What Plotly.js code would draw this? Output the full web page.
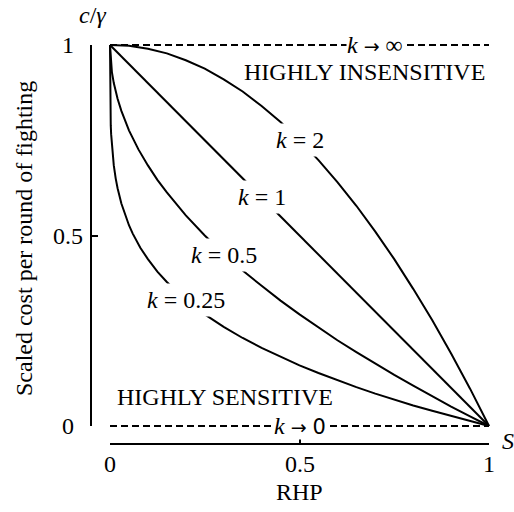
<!DOCTYPE html>
<html>
<head>
<meta charset="utf-8">
<script src="https://cdn.plot.ly/plotly-3.0.1.min.js"></script>
<style>
  html, body { margin: 0; padding: 0; background: #fff; }
  #chart { width: 514px; height: 512px; }
</style>
</head>
<body>
<div id="chart"></div>
<script>
// Scaled cost per round of fighting (c/γ) against RHP (S) for several k.
const curveNames = ['k = 0.25', 'k = 0.5', 'k = 1', 'k = 2'];

const rhpK025  = [0, 0.0001, 0.0005, 0.001, 0.002, 0.003, 0.005, 0.0075, 0.01, 0.015, 0.02, 0.03, 0.04, 0.05, 0.06, 0.08,
                  0.1, 0.125, 0.15, 0.175, 0.2, 0.25, 0.3, 0.35, 0.4, 0.45, 0.5, 0.55, 0.6, 0.65, 0.7, 0.75, 0.8, 0.85, 0.9, 0.95, 1];
const costK025 = [1, 0.900, 0.850, 0.822, 0.789, 0.766, 0.734, 0.706, 0.684, 0.650, 0.624, 0.584, 0.553, 0.527, 0.505, 0.468,
                  0.438, 0.405, 0.378, 0.353, 0.331, 0.293, 0.260, 0.231, 0.205, 0.181, 0.159, 0.139, 0.120, 0.102, 0.085, 0.069, 0.054, 0.040, 0.026, 0.013, 0];

const rhpK05  = [0, 0.002, 0.005, 0.01, 0.02, 0.03, 0.05, 0.075, 0.1, 0.125, 0.15, 0.2, 0.25, 0.3, 0.35, 0.4,
                 0.45, 0.5, 0.55, 0.6, 0.65, 0.7, 0.75, 0.8, 0.85, 0.9, 0.95, 1];
const costK05 = [1, 0.955, 0.929, 0.900, 0.859, 0.827, 0.776, 0.726, 0.684, 0.646, 0.613, 0.553, 0.500, 0.452, 0.408, 0.368,
                 0.329, 0.293, 0.258, 0.225, 0.194, 0.163, 0.134, 0.106, 0.078, 0.051, 0.025, 0];

const rhpK1  = [0, 1];
const costK1 = [1, 0];

const rhpK2  = [0, 0.05, 0.1, 0.15, 0.2, 0.25, 0.3, 0.35, 0.4, 0.45, 0.5, 0.55, 0.6, 0.65, 0.7, 0.75, 0.8, 0.85, 0.9, 0.95, 1];
const costK2 = [1, 0.998, 0.990, 0.978, 0.960, 0.938, 0.910, 0.878, 0.840, 0.798, 0.750, 0.698, 0.640, 0.578, 0.510, 0.438,
                0.360, 0.278, 0.190, 0.098, 0];

// limiting cases
const limitRhp = [0, 1];
const limitInfCost = [1, 1];
const limitZeroCost = [0, 0];

// where each curve carries its label (on the curve)
const labelRhp  = [0.2, 0.3, 0.4, 0.5];
const labelCost = [0.33, 0.45, 0.6, 0.75];

// axis ticks
const tickVals = [0, 0.5, 1];
const tickText = ['0', '0.5', '1'];

// ---- geometry (pixels in the 514x512 page) ----
const W = 514, H = 512;
const PL = 88, PR = 502, PT = 30, PB = 452;        // paper box
const X0 = 110, X1 = 489, Y0 = 426, Y1 = 45;       // where S, c/γ = 0..1 land
const XAXIS_LINE = 443.5, YAXIS_LINE = 91;
const pad = 0.02;                                  // room so edge lines are not clipped
const fx = px => (px - PL) / (PR - PL);
const fy = py => (PB - py) / (PB - PT);
const sx = (X1 - X0), sy = (Y0 - Y1);

const FONT = 'Liberation Serif, Times New Roman, serif';
const FS = 24;
const ARROW = '<span style="font-family:DejaVu Sans;font-size:19px">→</span>';

const lineStyle = { color: '#000', width: 2 };

const traces = [
  { x: rhpK025, y: costK025, name: curveNames[0] },
  { x: rhpK05,  y: costK05,  name: curveNames[1] },
  { x: rhpK1,   y: costK1,   name: curveNames[2] },
  { x: rhpK2,   y: costK2,   name: curveNames[3] }
].map(t => Object.assign(t, {
  type: 'scatter', mode: 'lines', line: lineStyle,
  hoverinfo: 'skip', showlegend: false, xaxis: 'x', yaxis: 'y'
}));

traces.push(
  { x: limitRhp, y: limitInfCost, type: 'scatter', mode: 'lines',
    line: { color: '#000', width: 2, dash: '7px,4px' }, hoverinfo: 'skip', showlegend: false },
  { x: limitRhp, y: limitZeroCost, type: 'scatter', mode: 'lines',
    line: { color: '#000', width: 2, dash: '7px,4px' }, hoverinfo: 'skip', showlegend: false },
  // carrier for the offset axes (nothing visible)
  { x: tickVals, y: tickVals, xaxis: 'x2', yaxis: 'y2', type: 'scatter', mode: 'markers',
    marker: { opacity: 0 }, hoverinfo: 'skip', showlegend: false }
);

const annotations = [];

// curve labels sit on the curves, hiding the line beneath them
curveNames.forEach((n, i) => {
  const parts = n.split(' = ');
  annotations.push({
    x: labelRhp[i], y: labelCost[i], xref: 'x', yref: 'y',
    text: '<i>k</i> = ' + parts[1], showarrow: false,
    bgcolor: '#fff', borderpad: 3,
    font: { family: FONT, size: FS, color: '#000' }
  });
});

annotations.push(
  { x: 0.70, y: 1, xref: 'x', yref: 'y', text: '<i>k</i> ' + ARROW + ' ∞', showarrow: false,
    bgcolor: '#fff', borderpad: 0, font: { family: FONT, size: FS, color: '#000' } },
  { x: 0.5, y: 0, xref: 'x', yref: 'y',
    text: '<i>k</i> ' + ARROW + ' <span style="font-family:DejaVu Sans;font-size:21px">0</span>', showarrow: false,
    bgcolor: '#fff', borderpad: 0, font: { family: FONT, size: FS, color: '#000' } },
  { x: fx(487), y: fy(72), xref: 'paper', yref: 'paper', xanchor: 'right', yanchor: 'middle',
    text: 'HIGHLY INSENSITIVE', showarrow: false, font: { family: FONT, size: FS, color: '#000' } },
  { x: fx(115), y: fy(397), xref: 'paper', yref: 'paper', xanchor: 'left', yanchor: 'middle',
    text: 'HIGHLY SENSITIVE', showarrow: false, font: { family: FONT, size: FS, color: '#000' } },
  { x: fx(92), y: fy(15), xref: 'paper', yref: 'paper', xanchor: 'center', yanchor: 'middle',
    text: '<i>c</i>/<i>γ</i>', showarrow: false, font: { family: FONT, size: FS, color: '#000' } },
  { x: fx(500), y: fy(441), xref: 'paper', yref: 'paper', xanchor: 'left', yanchor: 'middle',
    text: '<i>S</i>', showarrow: false, font: { family: FONT, size: FS, color: '#000' } },
  { x: fx(299), y: fy(492), xref: 'paper', yref: 'paper', xanchor: 'center', yanchor: 'middle',
    text: 'RHP', showarrow: false, font: { family: FONT, size: FS, color: '#000' } },
  { x: fx(24), y: fy(239), xref: 'paper', yref: 'paper', xanchor: 'center', yanchor: 'middle',
    text: 'Scaled cost per round of fighting', textangle: -90, showarrow: false,
    font: { family: FONT, size: FS, color: '#000' } }
);

// tick labels: y labels centred in their column, x labels centred under their ticks
tickVals.forEach((v, i) => {
  annotations.push({
    x: fx(67.5), y: v, xref: 'paper', yref: 'y2', xanchor: 'center', yanchor: 'middle',
    text: tickText[i], showarrow: false, font: { family: FONT, size: FS, color: '#000' }
  });
  annotations.push({
    x: v, y: fy(464), xref: 'x2', yref: 'paper', xanchor: 'center', yanchor: 'middle',
    text: tickText[i], showarrow: false, font: { family: FONT, size: FS, color: '#000' }
  });
});

const layout = {
  width: W, height: H,
  margin: { l: PL, r: W - PR, t: PT, b: H - PB, pad: 0 },
  paper_bgcolor: '#fff', plot_bgcolor: 'rgba(0,0,0,0)',
  showlegend: false,
  font: { family: FONT, size: FS, color: '#000' },
  xaxis: {
    visible: false, range: [-pad, 1 + pad],
    domain: [fx(X0 - pad * sx), fx(X1 + pad * sx)], anchor: 'y', fixedrange: true
  },
  yaxis: {
    visible: false, range: [-pad, 1 + pad],
    domain: [fy(Y0 + pad * sy), fy(Y1 - pad * sy)], anchor: 'x', fixedrange: true
  },
  xaxis2: {
    range: [0, 1], domain: [fx(X0), fx(X1)], anchor: 'free', position: fy(XAXIS_LINE),
    showline: true, linecolor: '#000', linewidth: 2,
    ticks: 'inside', ticklen: 5, tickwidth: 2, tickcolor: '#000',
    tickvals: tickVals, showticklabels: false,
    showgrid: false, zeroline: false, fixedrange: true
  },
  yaxis2: {
    range: [0, 1], domain: [fy(Y0), fy(Y1)], anchor: 'free', position: fx(YAXIS_LINE),
    showline: true, linecolor: '#000', linewidth: 2,
    ticks: 'inside', ticklen: 6, tickwidth: 2, tickcolor: '#000',
    tickvals: tickVals, showticklabels: false,
    showgrid: false, zeroline: false, fixedrange: true
  },
  annotations: annotations
};

Plotly.newPlot('chart', traces, layout, { displayModeBar: false, staticPlot: true });
</script>
</body>
</html>
